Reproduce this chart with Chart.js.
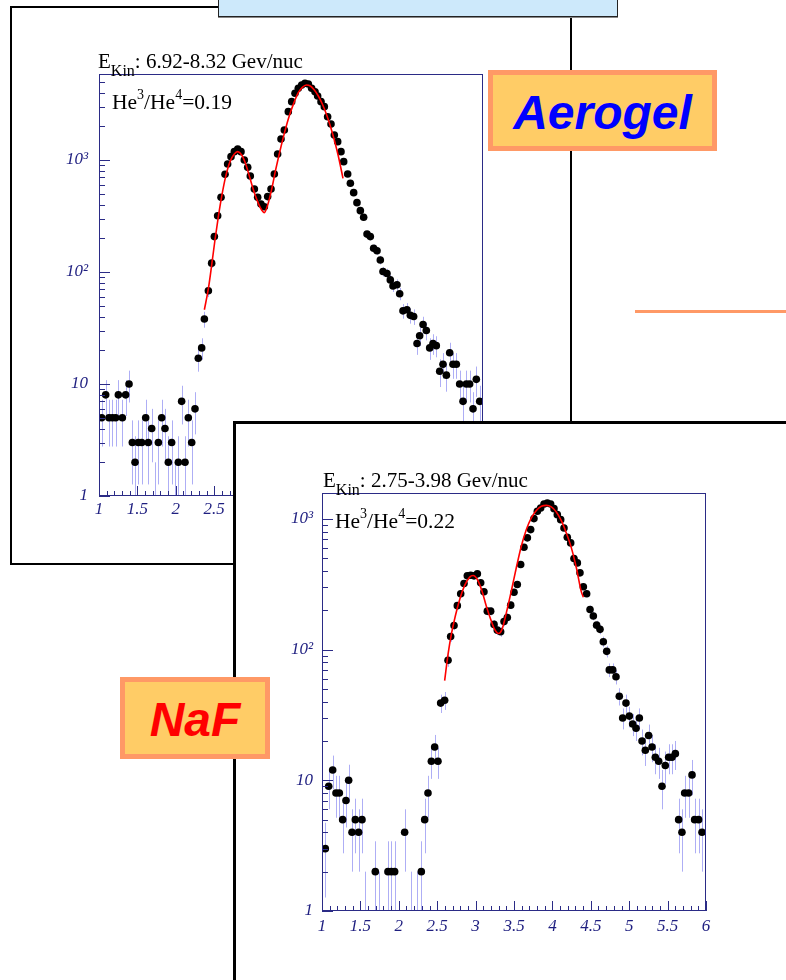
<!DOCTYPE html>
<html>
<head>
<meta charset="utf-8">
<script src="https://cdn.jsdelivr.net/npm/chart.js@4.4.1/dist/chart.umd.min.js"></script>
<style>
  body { margin: 0; width: 786px; height: 980px; overflow: hidden; background: #fff; position: relative; }
  .abs { position: absolute; box-sizing: border-box; }
  #blueBox { left: 218px; top: -3px; width: 400px; height: 20px; background: #cde9fb; border: 1px solid #222; box-shadow: 0 1px 0 #888; z-index: 3; }
  #panelTop { left: 10px; top: 6px; width: 562px; height: 559px; border: 2px solid #000; background: #fff; z-index: 1; }
  #orangeLine { left: 635px; top: 310px; width: 151px; height: 3px; background: #ff9966; z-index: 1; }
  #panelBottom { left: 233px; top: 421px; width: 600px; height: 600px; border: 3px solid #000; background: #fff; z-index: 5; }
  #cTop { position: absolute; left: 30px; top: 70px; z-index: 2; }
  #cBottom { position: absolute; left: 250px; top: 488px; z-index: 6; }
  .lbl { position: absolute; font: 21px/20px "Liberation Serif", serif; white-space: nowrap; color: #000; }
  .lbl sub { font-size: 16px; line-height: 0; vertical-align: -8px; }
  .lbl sup { font-size: 14px; line-height: 0; vertical-align: 10px; }
  .tag { position: absolute; box-sizing: border-box; border: 5px solid #ff9966; background: #ffcc66; }
  .tag span { position: absolute; left: 0; right: 0; top: 14px; text-align: center;
              font: italic bold 48px/48px "Liberation Sans", Arial, sans-serif; }
</style>
</head>
<body>
<div id="blueBox" class="abs"></div>
<div id="panelTop" class="abs"></div>
<canvas id="cTop" width="460" height="460"></canvas>
<div class="lbl" style="left:98px; top:51px; z-index:2">E<sub>Kin</sub>: 6.92-8.32 Gev/nuc</div>
<div class="lbl" style="left:112px; top:92px; z-index:2; font-size:21.5px">He<sup>3</sup>/He<sup>4</sup>=0.19</div>
<div id="orangeLine" class="abs"></div>
<div class="tag" style="left:488px; top:70px; width:229px; height:81px; z-index:4"><span style="color:#0000ff">Aerogel</span></div>

<div id="panelBottom" class="abs"></div>
<canvas id="cBottom" width="470" height="460"></canvas>
<div class="lbl" style="left:323px; top:470px; z-index:6">E<sub>Kin</sub>: 2.75-3.98 Gev/nuc</div>
<div class="lbl" style="left:335px; top:511px; z-index:6; font-size:21.5px">He<sup>3</sup>/He<sup>4</sup>=0.22</div>
<div class="tag" style="left:120px; top:677px; width:150px; height:82px; z-index:7"><span style="color:#ff0000">NaF</span></div>

<script>
// Aerogel, E_kin 6.92-8.32 GeV/nuc : reconstructed mass histogram
const aeroMass = [1.035,1.087,1.130,1.174,1.217,1.252,1.304,1.347,1.391,1.434,
  1.469,1.512,1.556,1.608,1.642,1.686,1.729,1.773,1.816,1.859,
  1.903,1.946,1.990,2.033,2.076,2.120,2.163,2.207,2.250,2.293,
  2.337,2.372,2.424,2.467,2.502,2.545,2.589,2.641,2.675,2.719,
  2.762,2.806,2.849,2.892,2.936,2.970,3.023,3.066,3.109,3.153,
  3.196,3.240,3.283,3.326,3.370,3.413,3.465,3.509,3.552,3.595,
  3.639,3.682,3.726,3.769,3.813,3.847,3.891,3.934,3.977,4.021,
  4.064,4.108,4.151,4.186,4.238,4.273,4.316,4.359,4.403,4.446,
  4.490,4.533,4.576,4.620,4.663,4.698,4.750,4.793,4.828,4.880,
  4.915,4.958,5.010,5.054,5.097,5.141,5.175,5.219,5.262,5.306,
  5.349,5.392,5.436,5.479,5.523,5.566,5.609,5.653,5.696,5.740,
  5.783,5.826,5.870,5.913,5.957];
const aeroCounts = [5,8,5,5,5,8,5,8,10,3,
  2,3,3,5,3,4,1,3,5,4,
  2,3,1,2,7,2,5,3,6,17,
  21,38,68,120,207,318,464,745,921,1071,
  1187,1253,1187,1000,860,720,551,464,405,383,
  471,551,750,1132,1542,1853,2703,3320,3940,4366,
  4677,4840,4775,4366,4074,3727,3320,2994,2437,2096,
  1672,1459,1187,967,750,620,511,416,353,308,
  218,207,163,155,128,101,97,85,75,77,
  64,45,46,41,40,23,27,34,30,21,
  23,22,13,15,12,19,15,15,10,7,
  10,10,6,11,7];
const aeroFitMass = [2.372,2.424,2.467,2.510,2.554,2.597,2.649,2.706,2.762,2.806,2.858,2.910,
  2.966,3.023,3.075,3.118,3.153,3.196,3.248,3.300,3.357,3.413,3.474,3.535,3.595,3.648,
  3.700,3.752,3.804,3.856,3.908,3.960,4.012,4.064,4.116,4.177];
const aeroFitCounts = [46,71,115,193,312,471,710,967,1132,1187,1109,921,
  686,511,410,358,339,396,547,815,1211,1730,2437,3206,3993,4454,
  4677,4581,4217,3727,3162,2575,2014,1509,1086,686];

// NaF, E_kin 2.75-3.98 GeV/nuc
const nafMass = [1.043,1.087,1.139,1.182,1.226,1.269,1.312,1.347,1.391,1.434,
  1.477,1.521,1.56,1.694,1.74,1.859,1.903,1.946,2.076,2.16,
  2.24,2.293,2.337,2.380,2.424,2.467,2.510,2.545,2.597,2.641,
  2.675,2.719,2.762,2.806,2.849,2.892,2.936,2.979,3.023,3.066,
  3.109,3.153,3.196,3.240,3.283,3.326,3.370,3.413,3.457,3.500,
  3.543,3.587,3.630,3.674,3.717,3.760,3.804,3.847,3.891,3.934,
  3.977,4.021,4.064,4.108,4.151,4.194,4.238,4.281,4.325,4.359,
  4.403,4.446,4.490,4.533,4.576,4.620,4.663,4.707,4.741,4.785,
  4.828,4.871,4.915,4.958,5.002,5.045,5.089,5.132,5.167,5.210,
  5.253,5.297,5.340,5.384,5.427,5.470,5.514,5.557,5.601,5.644,
  5.687,5.722,5.774,5.818,5.852,5.904,5.948];
const nafCounts = [3,9,12,8,8,5,7,10,4,5,
  4,5,1,2,1,2,2,2,4,1,
  1,2,5,8,14,18,14,39,41,83,
  126,153,217,268,321,367,371,367,380,325,
  277,197,197,156,141,137,164,176,219,275,
  315,448,608,717,829,1006,1146,1213,1302,1325,
  1302,1199,1079,988,853,724,656,498,461,387,
  303,268,203,181,154,143,115,97,70,70,
  62,44,30,39,31,27,25,30,20,17,
  22,18,15,14,9,13,15,15,16,5,
  4,8,8,11,5,5,4];
const nafFitMass = [2.597,2.641,2.684,2.736,2.793,2.858,2.923,2.967,3.023,3.083,3.140,3.196,
  3.248,3.300,3.344,3.400,3.465,3.530,3.595,3.661,3.726,3.791,3.856,3.921,3.986,4.051,
  4.116,4.181,4.247,4.312,4.377,4.403];
const nafFitCounts = [58,92,131,181,242,310,359,369,344,281,215,171,
  143,133,143,191,281,423,618,829,1018,1159,1250,1271,1236,1130,
  971,782,601,423,277,252];

const yTickLabels = {1: '1', 10: '10', 100: '10²', 1000: '10³'};

const AXIS = '#2b2b86';
const LABEL = '#1f1f80';

// ROOT-like look: error bars, frame and inward ticks
const rootStyle = {
  id: 'rootStyle',
  beforeDatasetsDraw(chart) {
    const {ctx, chartArea: a, scales: {x, y}} = chart;
    ctx.save();
    ctx.beginPath();
    ctx.rect(a.left, a.top, a.right - a.left, a.bottom - a.top);
    ctx.clip();
    ctx.strokeStyle = '#aeaef5';
    ctx.lineWidth = 1;
    chart.data.datasets[0].data.forEach(p => {
      const e = Math.sqrt(p.y);
      const px = Math.round(x.getPixelForValue(p.x)) + 0.5;
      const top = y.getPixelForValue(p.y + e);
      const bot = p.y - e > 0 ? Math.min(y.getPixelForValue(p.y - e), a.bottom) : a.bottom;
      ctx.beginPath();
      ctx.moveTo(px, top);
      ctx.lineTo(px, bot);
      ctx.stroke();
    });
    ctx.restore();
  },
  afterDraw(chart) {
    const {ctx, chartArea: a, scales: {x, y}} = chart;
    ctx.save();
    ctx.strokeStyle = AXIS;
    ctx.lineWidth = 1;
    ctx.strokeRect(a.left + 0.5, a.top + 0.5, a.right - a.left - 1, a.bottom - a.top - 1);
    ctx.beginPath();
    for (let i = 0; i <= 50; i++) {
      const px = Math.round(x.getPixelForValue(1 + i / 10)) + 0.5;
      ctx.moveTo(px, a.bottom);
      ctx.lineTo(px, a.bottom - (i % 5 === 0 ? 10 : 5));
    }
    for (let d = 1; d <= 1000; d *= 10) {
      for (let k = 1; k < 10; k++) {
        if (d * k > y.max) continue;
        const py = Math.round(y.getPixelForValue(d * k)) + 0.5;
        ctx.moveTo(a.left, py);
        ctx.lineTo(a.left + (k === 1 ? 11 : 6), py);
      }
    }
    ctx.stroke();
    ctx.restore();
  }
};

function massChart(id, mass, counts, fitMass, fitCounts, cfg) {
  const tickFont = {family: 'Liberation Serif', style: 'italic', size: 17};
  return new Chart(document.getElementById(id), {
    type: 'scatter',
    data: {
      datasets: [{
        data: mass.map((m, i) => ({x: m, y: counts[i]})),
        backgroundColor: '#000',
        borderWidth: 0,
        pointRadius: c => (c.raw && c.raw.y > 1 ? 3.8 : 0),
        order: 2
      }, {
        data: fitMass.map((m, i) => ({x: m, y: fitCounts[i]})),
        showLine: true,
        borderColor: '#ff0000',
        borderWidth: 1.6,
        pointRadius: 0,
        cubicInterpolationMode: 'monotone',
        order: 1
      }]
    },
    options: {
      responsive: false,
      animation: false,
      devicePixelRatio: 1,
      layout: {padding: {top: cfg.padTop, right: cfg.padRight, left: 0, bottom: 0}},
      plugins: {legend: {display: false}, tooltip: {enabled: false}},
      scales: {
        x: {
          type: 'linear', min: 1, max: 6,
          grid: {display: false, drawTicks: false},
          border: {display: false},
          ticks: {stepSize: 0.5, autoSkip: false, maxRotation: 0, padding: cfg.xPad,
                  color: LABEL, font: tickFont, callback: v => String(v)},
          afterFit: s => { s.height = cfg.xAxisH; s.paddingLeft = 0; s.paddingRight = 0; }
        },
        y: {
          type: 'logarithmic', min: 1, max: cfg.yMax,
          grid: {display: false, drawTicks: false},
          border: {display: false},
          ticks: {autoSkip: false, padding: cfg.yPad, color: LABEL, font: tickFont,
                  callback: v => yTickLabels[v] || ''},
          afterFit: s => { s.width = cfg.yAxisW; s.paddingTop = 0; s.paddingBottom = 0; }
        }
      }
    },
    plugins: [rootStyle]
  });
}

massChart('cTop', aeroMass, aeroCounts, aeroFitMass, aeroFitCounts,
  {padTop: 4, padRight: 7, xAxisH: 34, yAxisW: 69, yMax: 5860, xPad: 3, yPad: 11});
massChart('cBottom', nafMass, nafCounts, nafFitMass, nafFitCounts,
  {padTop: 5, padRight: 14, xAxisH: 37, yAxisW: 72, yMax: 1580, xPad: 5, yPad: 9});
</script>
</body>
</html>
